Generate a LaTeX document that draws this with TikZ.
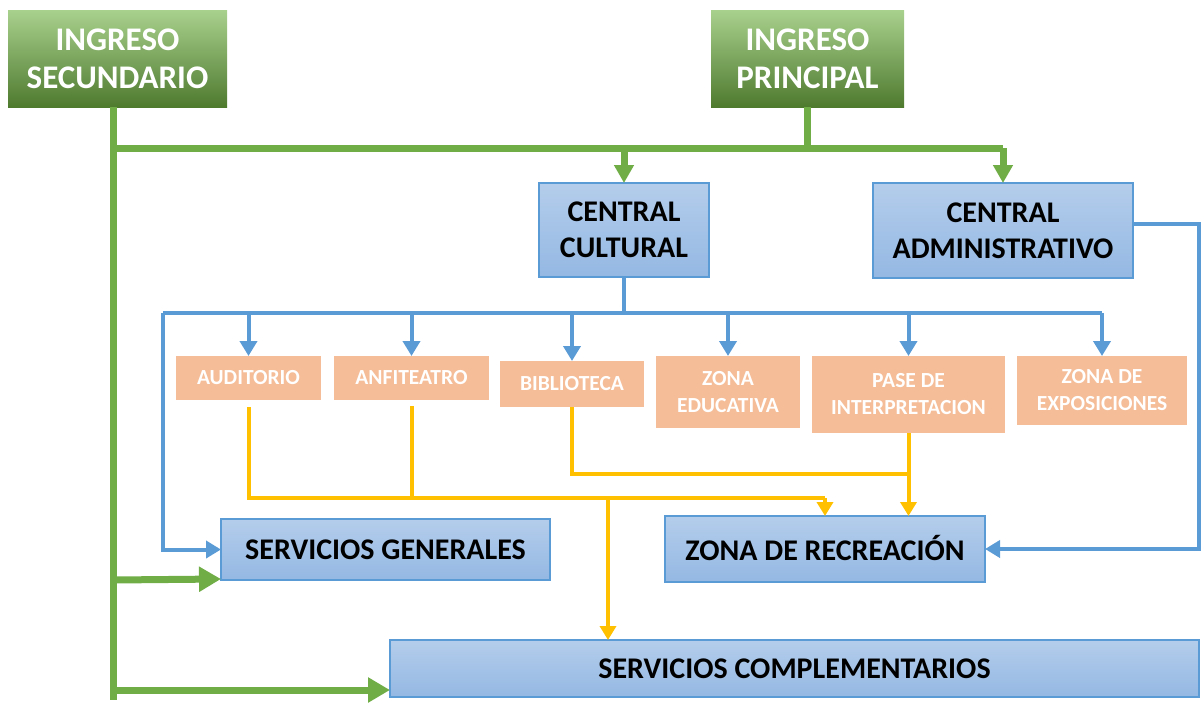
\documentclass[tikz,border=0pt]{standalone}
\usepackage{fontspec}
\setmainfont{Carlito}
\usetikzlibrary{arrows.meta}
\definecolor{gtop}{HTML}{A9D18E}
\definecolor{gmid}{HTML}{70AD47}
\definecolor{gbot}{HTML}{4E7A2E}
\definecolor{gline}{HTML}{70AD47}
\definecolor{btop}{HTML}{B4CDEB}
\definecolor{bbot}{HTML}{94B8E3}
\definecolor{bline}{HTML}{5B9BD5}
\definecolor{obox}{HTML}{F5BD98}
\definecolor{yline}{HTML}{FFC000}
\tikzset{
  greenbox/.style={shade, top color=gtop, middle color=gmid, bottom color=gbot, draw=none,
    text=white, font=\fontsize{33}{38}\selectfont\bfseries, align=center, inner sep=0pt, outer sep=0pt},
  bluebox/.style={shade, top color=btop, bottom color=bbot, draw=bline, line width=1.2pt,
    text=black, font=\fontsize{30}{36}\selectfont\bfseries, align=center, inner sep=0pt, outer sep=0pt},
  orangebox/.style={fill=obox, draw=none, text=white, font=\fontsize{21.5}{27}\selectfont\bfseries,
    align=center, inner sep=0pt, outer sep=0pt},
  gconn/.style={draw=gline, line width=7pt},
  garrow/.style={gconn, -{Triangle[length=22pt,width=24pt]}},
  garrowsm/.style={gconn, -{Triangle[length=18pt,width=19pt]}},
  bconn/.style={draw=bline, line width=4pt},
  barrow/.style={bconn, -{Triangle[length=15pt,width=17pt]}},
  yconn/.style={draw=yline, line width=4pt},
  yarrow/.style={yconn, -{Triangle[length=14pt,width=16pt]}},
}
\begin{document}
\begin{tikzpicture}[x=1pt,y=-1pt]
\useasboundingbox (0,0) rectangle (1201,702);

% green entrances
\node[greenbox, minimum width=219, minimum height=97] (is) at (117.5,58.5) {INGRESO\\SECUNDARIO};
\node[greenbox, minimum width=193, minimum height=97] (ip) at (807.5,58.5) {INGRESO\\PRINCIPAL};

% central boxes
\node[bluebox, minimum width=170, minimum height=94] (cc) at (624,230) {CENTRAL\\CULTURAL};
\node[bluebox, minimum width=260, minimum height=95] (ca) at (1003,230.5) {CENTRAL\\ADMINISTRATIVO};

% orange boxes
\node[orangebox, minimum width=145, minimum height=44] (au) at (248.5,378) {AUDITORIO};
\node[orangebox, minimum width=155, minimum height=44] (an) at (411.5,378) {ANFITEATRO};
\node[orangebox, minimum width=144, minimum height=46] (bi) at (572,384) {BIBLIOTECA};
\node[orangebox, minimum width=144, minimum height=72] (ze) at (728,392) {ZONA\\EDUCATIVA};
\node[orangebox, minimum width=193, minimum height=77] (pa) at (908.5,394.5) {PASE DE\\INTERPRETACION};
\node[orangebox, minimum width=170, minimum height=69] (ex) at (1102,390.5) {ZONA DE\\EXPOSICIONES};

% lower boxes
\node[bluebox, minimum width=329, minimum height=61] (sg) at (385.5,549.5) {SERVICIOS GENERALES};
\node[bluebox, minimum width=320, minimum height=66] (zr) at (825,549) {\raisebox{3pt}{ZONA DE RECREACIÓN}};
\node[bluebox, minimum width=809, minimum height=57] (sc) at (794.5,668.5) {SERVICIOS COMPLEMENTARIOS};

% coordinates
\coordinate (gbus) at (0,148);
\coordinate (gtrunk) at (113,700);
\coordinate (bbus) at (0,313);
\coordinate (bleft) at (163,313);
\coordinate (bright) at (1199,224);
\coordinate (y1) at (0,498);
\coordinate (y2) at (0,474);
\coordinate (ysc) at (608,498);

% green connectors
\draw[gconn] (is.south -| gtrunk) -- (gtrunk);
\draw[gconn] (gbus -| gtrunk) -- (gbus -| ca.north);
\draw[gconn] (ip.south) -- (ip.south |- gbus);
\draw[garrowsm] (gbus -| cc.north) -- (cc.north);
\draw[garrowsm] (gbus -| ca.north) -- (ca.north);
\draw[garrow] (sg.south west -| gtrunk) -- ([yshift=1pt]sg.south west);
\draw[garrow] (gtrunk |- 0,690) -- (sc.west |- 0,690);

% blue connectors
\draw[bconn] (cc.south) -- (cc.south |- bbus);
\draw[bconn] (bleft) -- (bbus -| ex.north);
\foreach \n in {au,an,bi,ze,pa,ex} {
  \draw[barrow] (bbus -| \n.north) -- (\n.north);
}
\draw[barrow] (bleft) -- (bleft |- sg.west) -- (sg.west);
\draw[barrow] (ca.east |- bright) -- (bright) -- (bright |- zr.east) -- (zr.east);

% yellow connectors
\draw[yconn] ([yshift=-7pt]au.south) -- (au.south |- y1) -- (zr.north |- y1);
\draw[yarrow] (zr.north |- y1) -- (zr.north);
\draw[yconn] ([yshift=-6pt]an.south) -- (an.south |- y1);
\draw[yconn] (bi.south) -- (bi.south |- y2) -- (pa.south |- y2);
\draw[yarrow] (pa.south) -- (pa.south |- zr.north);
\draw[yarrow] (ysc) -- (ysc |- sc.north);
\end{tikzpicture}
\end{document}
